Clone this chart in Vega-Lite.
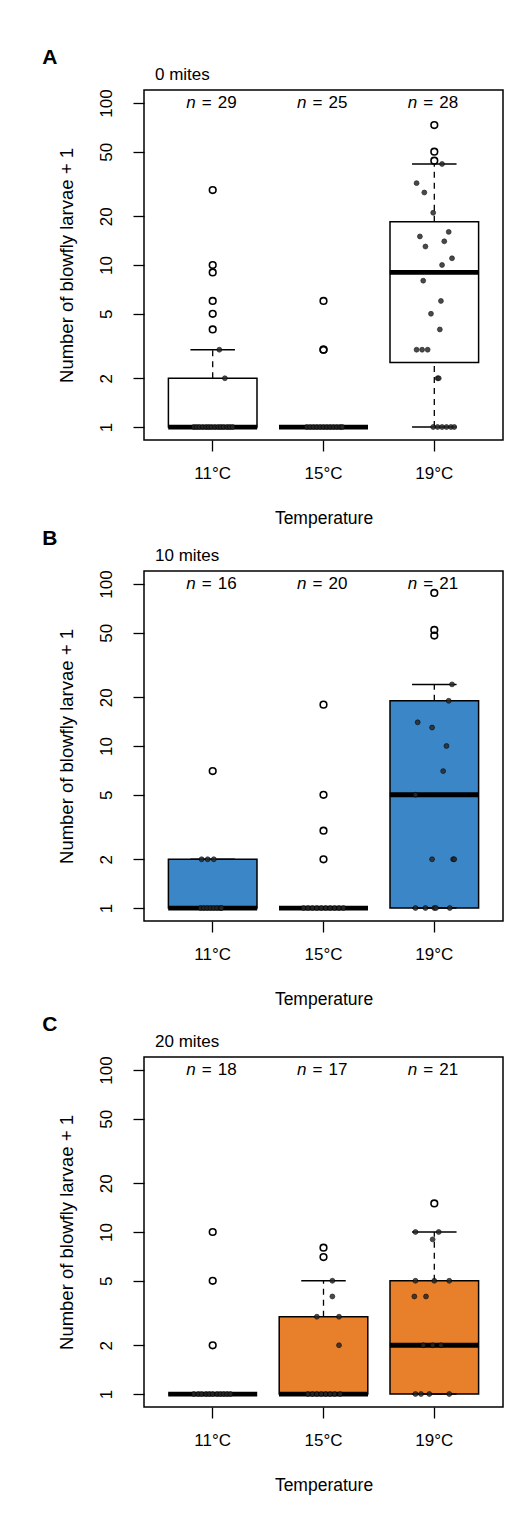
{
"$schema": "https://vega.github.io/schema/vega-lite/v6.json",
"background": "white",
"padding": {"left": 42, "top": 47, "right": 5, "bottom": 5},
"config": {
  "font": "Liberation Sans",
  "view": {"stroke": "black", "strokeWidth": 1.5},
  "axis": {"domain": false, "grid": false, "tickColor": "black", "tickSize": 11, "tickWidth": 1.3, "labelColor": "black", "labelFontSize": 17, "titleColor": "black", "titleFontSize": 17, "titleFontWeight": "normal", "labelFont": "Liberation Sans", "titleFont": "Liberation Sans", "labelOverlap": false, "labelFlush": false},
  "axisX": {"labelPadding": 14, "titlePadding": 28, "labelAngle": 0, "titleFontSize": 17.5},
  "axisY": {"labelAngle": -90, "labelAlign": "center", "labelBaseline": "alphabetic", "labelPadding": 22, "titlePadding": 21, "titleFontSize": 18.5},
  "title": {"font": "Liberation Sans", "color": "black"}
},
"datasets": {
  "stats": [
    {"panel": "A", "temp": "11°C", "lo": 1, "q1": 1, "med": 1, "q3": 2, "hi": 3, "n": 29},
    {"panel": "A", "temp": "15°C", "lo": 1, "q1": 1, "med": 1, "q3": 1, "hi": 1, "n": 25},
    {"panel": "A", "temp": "19°C", "lo": 1, "q1": 2.5, "med": 9, "q3": 18.5, "hi": 42, "n": 28},
    {"panel": "B", "temp": "11°C", "lo": 1, "q1": 1, "med": 1, "q3": 2, "hi": 2, "n": 16},
    {"panel": "B", "temp": "15°C", "lo": 1, "q1": 1, "med": 1, "q3": 1, "hi": 1, "n": 20},
    {"panel": "B", "temp": "19°C", "lo": 1, "q1": 1, "med": 5, "q3": 19, "hi": 24, "n": 21},
    {"panel": "C", "temp": "11°C", "lo": 1, "q1": 1, "med": 1, "q3": 1, "hi": 1, "n": 18},
    {"panel": "C", "temp": "15°C", "lo": 1, "q1": 1, "med": 1, "q3": 3, "hi": 5, "n": 17},
    {"panel": "C", "temp": "19°C", "lo": 1, "q1": 1, "med": 2, "q3": 5, "hi": 10, "n": 21}
  ],
  "pts": [
    {"panel": "A", "temp": "11°C", "value": 29, "jit": 0, "kind": "out"},
    {"panel": "A", "temp": "11°C", "value": 10, "jit": 0, "kind": "out"},
    {"panel": "A", "temp": "11°C", "value": 9, "jit": 0, "kind": "out"},
    {"panel": "A", "temp": "11°C", "value": 6, "jit": 0, "kind": "out"},
    {"panel": "A", "temp": "11°C", "value": 5, "jit": 0, "kind": "out"},
    {"panel": "A", "temp": "11°C", "value": 4, "jit": 0, "kind": "out"},
    {"panel": "A", "temp": "11°C", "value": 3, "jit": 0.06, "kind": "in"},
    {"panel": "A", "temp": "11°C", "value": 2, "jit": 0.11, "kind": "in"},
    {"panel": "A", "temp": "11°C", "value": 1, "jit": -0.17, "kind": "in"},
    {"panel": "A", "temp": "11°C", "value": 1, "jit": -0.145, "kind": "in"},
    {"panel": "A", "temp": "11°C", "value": 1, "jit": -0.12, "kind": "in"},
    {"panel": "A", "temp": "11°C", "value": 1, "jit": -0.09, "kind": "in"},
    {"panel": "A", "temp": "11°C", "value": 1, "jit": -0.06, "kind": "in"},
    {"panel": "A", "temp": "11°C", "value": 1, "jit": -0.035, "kind": "in"},
    {"panel": "A", "temp": "11°C", "value": 1, "jit": -0.01, "kind": "in"},
    {"panel": "A", "temp": "11°C", "value": 1, "jit": 0.02, "kind": "in"},
    {"panel": "A", "temp": "11°C", "value": 1, "jit": 0.05, "kind": "in"},
    {"panel": "A", "temp": "11°C", "value": 1, "jit": 0.075, "kind": "in"},
    {"panel": "A", "temp": "11°C", "value": 1, "jit": 0.1, "kind": "in"},
    {"panel": "A", "temp": "11°C", "value": 1, "jit": 0.13, "kind": "in"},
    {"panel": "A", "temp": "11°C", "value": 1, "jit": 0.155, "kind": "in"},
    {"panel": "A", "temp": "11°C", "value": 1, "jit": 0.18, "kind": "in"},
    {"panel": "A", "temp": "15°C", "value": 6, "jit": 0, "kind": "out"},
    {"panel": "A", "temp": "15°C", "value": 3, "jit": 0, "kind": "out"},
    {"panel": "A", "temp": "15°C", "value": 3, "jit": 0, "kind": "out"},
    {"panel": "A", "temp": "15°C", "value": 1, "jit": -0.15, "kind": "in"},
    {"panel": "A", "temp": "15°C", "value": 1, "jit": -0.12, "kind": "in"},
    {"panel": "A", "temp": "15°C", "value": 1, "jit": -0.09, "kind": "in"},
    {"panel": "A", "temp": "15°C", "value": 1, "jit": -0.06, "kind": "in"},
    {"panel": "A", "temp": "15°C", "value": 1, "jit": -0.03, "kind": "in"},
    {"panel": "A", "temp": "15°C", "value": 1, "jit": 0, "kind": "in"},
    {"panel": "A", "temp": "15°C", "value": 1, "jit": 0.03, "kind": "in"},
    {"panel": "A", "temp": "15°C", "value": 1, "jit": 0.06, "kind": "in"},
    {"panel": "A", "temp": "15°C", "value": 1, "jit": 0.09, "kind": "in"},
    {"panel": "A", "temp": "15°C", "value": 1, "jit": 0.12, "kind": "in"},
    {"panel": "A", "temp": "15°C", "value": 1, "jit": 0.15, "kind": "in"},
    {"panel": "A", "temp": "15°C", "value": 1, "jit": 0.17, "kind": "in"},
    {"panel": "A", "temp": "19°C", "value": 73, "jit": 0, "kind": "out"},
    {"panel": "A", "temp": "19°C", "value": 50, "jit": 0, "kind": "out"},
    {"panel": "A", "temp": "19°C", "value": 44, "jit": 0, "kind": "out"},
    {"panel": "A", "temp": "19°C", "value": 42, "jit": 0.07, "kind": "in"},
    {"panel": "A", "temp": "19°C", "value": 32, "jit": -0.16, "kind": "in"},
    {"panel": "A", "temp": "19°C", "value": 28, "jit": -0.09, "kind": "in"},
    {"panel": "A", "temp": "19°C", "value": 21, "jit": -0.01, "kind": "in"},
    {"panel": "A", "temp": "19°C", "value": 15, "jit": -0.13, "kind": "in"},
    {"panel": "A", "temp": "19°C", "value": 16, "jit": 0.13, "kind": "in"},
    {"panel": "A", "temp": "19°C", "value": 14, "jit": 0.09, "kind": "in"},
    {"panel": "A", "temp": "19°C", "value": 13, "jit": -0.08, "kind": "in"},
    {"panel": "A", "temp": "19°C", "value": 11, "jit": 0.16, "kind": "in"},
    {"panel": "A", "temp": "19°C", "value": 10, "jit": 0.07, "kind": "in"},
    {"panel": "A", "temp": "19°C", "value": 8, "jit": -0.1, "kind": "in"},
    {"panel": "A", "temp": "19°C", "value": 6, "jit": 0.06, "kind": "in"},
    {"panel": "A", "temp": "19°C", "value": 5, "jit": -0.03, "kind": "in"},
    {"panel": "A", "temp": "19°C", "value": 4, "jit": 0.05, "kind": "in"},
    {"panel": "A", "temp": "19°C", "value": 3, "jit": -0.16, "kind": "in"},
    {"panel": "A", "temp": "19°C", "value": 3, "jit": -0.11, "kind": "in"},
    {"panel": "A", "temp": "19°C", "value": 3, "jit": -0.06, "kind": "in"},
    {"panel": "A", "temp": "19°C", "value": 2, "jit": 0.03, "kind": "in"},
    {"panel": "A", "temp": "19°C", "value": 2, "jit": 0.04, "kind": "in"},
    {"panel": "A", "temp": "19°C", "value": 1, "jit": -0.01, "kind": "in"},
    {"panel": "A", "temp": "19°C", "value": 1, "jit": 0.03, "kind": "in"},
    {"panel": "A", "temp": "19°C", "value": 1, "jit": 0.07, "kind": "in"},
    {"panel": "A", "temp": "19°C", "value": 1, "jit": 0.11, "kind": "in"},
    {"panel": "A", "temp": "19°C", "value": 1, "jit": 0.15, "kind": "in"},
    {"panel": "A", "temp": "19°C", "value": 1, "jit": 0.18, "kind": "in"},
    {"panel": "B", "temp": "11°C", "value": 7, "jit": 0, "kind": "out"},
    {"panel": "B", "temp": "11°C", "value": 2, "jit": -0.1, "kind": "in"},
    {"panel": "B", "temp": "11°C", "value": 2, "jit": -0.045, "kind": "in"},
    {"panel": "B", "temp": "11°C", "value": 2, "jit": 0.01, "kind": "in"},
    {"panel": "B", "temp": "11°C", "value": 1, "jit": -0.11, "kind": "in"},
    {"panel": "B", "temp": "11°C", "value": 1, "jit": -0.08, "kind": "in"},
    {"panel": "B", "temp": "11°C", "value": 1, "jit": -0.05, "kind": "in"},
    {"panel": "B", "temp": "11°C", "value": 1, "jit": -0.02, "kind": "in"},
    {"panel": "B", "temp": "11°C", "value": 1, "jit": 0.01, "kind": "in"},
    {"panel": "B", "temp": "11°C", "value": 1, "jit": 0.04, "kind": "in"},
    {"panel": "B", "temp": "11°C", "value": 1, "jit": 0.07, "kind": "in"},
    {"panel": "B", "temp": "11°C", "value": 1, "jit": 0.08, "kind": "in"},
    {"panel": "B", "temp": "15°C", "value": 18, "jit": 0, "kind": "out"},
    {"panel": "B", "temp": "15°C", "value": 5, "jit": 0, "kind": "out"},
    {"panel": "B", "temp": "15°C", "value": 3, "jit": 0, "kind": "out"},
    {"panel": "B", "temp": "15°C", "value": 2, "jit": 0, "kind": "out"},
    {"panel": "B", "temp": "15°C", "value": 1, "jit": -0.18, "kind": "in"},
    {"panel": "B", "temp": "15°C", "value": 1, "jit": -0.14, "kind": "in"},
    {"panel": "B", "temp": "15°C", "value": 1, "jit": -0.1, "kind": "in"},
    {"panel": "B", "temp": "15°C", "value": 1, "jit": -0.06, "kind": "in"},
    {"panel": "B", "temp": "15°C", "value": 1, "jit": -0.02, "kind": "in"},
    {"panel": "B", "temp": "15°C", "value": 1, "jit": 0.02, "kind": "in"},
    {"panel": "B", "temp": "15°C", "value": 1, "jit": 0.06, "kind": "in"},
    {"panel": "B", "temp": "15°C", "value": 1, "jit": 0.1, "kind": "in"},
    {"panel": "B", "temp": "15°C", "value": 1, "jit": 0.14, "kind": "in"},
    {"panel": "B", "temp": "15°C", "value": 1, "jit": 0.18, "kind": "in"},
    {"panel": "B", "temp": "19°C", "value": 88, "jit": 0, "kind": "out"},
    {"panel": "B", "temp": "19°C", "value": 52, "jit": 0, "kind": "out"},
    {"panel": "B", "temp": "19°C", "value": 48, "jit": 0, "kind": "out"},
    {"panel": "B", "temp": "19°C", "value": 24, "jit": 0.16, "kind": "in"},
    {"panel": "B", "temp": "19°C", "value": 19, "jit": 0.13, "kind": "in"},
    {"panel": "B", "temp": "19°C", "value": 14, "jit": -0.15, "kind": "in"},
    {"panel": "B", "temp": "19°C", "value": 13, "jit": -0.02, "kind": "in"},
    {"panel": "B", "temp": "19°C", "value": 10, "jit": 0.11, "kind": "in"},
    {"panel": "B", "temp": "19°C", "value": 7, "jit": 0.08, "kind": "in"},
    {"panel": "B", "temp": "19°C", "value": 5, "jit": -0.17, "kind": "in"},
    {"panel": "B", "temp": "19°C", "value": 2, "jit": -0.02, "kind": "in"},
    {"panel": "B", "temp": "19°C", "value": 2, "jit": 0.17, "kind": "in"},
    {"panel": "B", "temp": "19°C", "value": 2, "jit": 0.18, "kind": "in"},
    {"panel": "B", "temp": "19°C", "value": 1, "jit": -0.17, "kind": "in"},
    {"panel": "B", "temp": "19°C", "value": 1, "jit": -0.08, "kind": "in"},
    {"panel": "B", "temp": "19°C", "value": 1, "jit": 0, "kind": "in"},
    {"panel": "B", "temp": "19°C", "value": 1, "jit": 0.015, "kind": "in"},
    {"panel": "B", "temp": "19°C", "value": 1, "jit": 0.14, "kind": "in"},
    {"panel": "C", "temp": "11°C", "value": 10, "jit": 0, "kind": "out"},
    {"panel": "C", "temp": "11°C", "value": 5, "jit": 0, "kind": "out"},
    {"panel": "C", "temp": "11°C", "value": 2, "jit": 0, "kind": "out"},
    {"panel": "C", "temp": "11°C", "value": 1, "jit": -0.17, "kind": "in"},
    {"panel": "C", "temp": "11°C", "value": 1, "jit": -0.13, "kind": "in"},
    {"panel": "C", "temp": "11°C", "value": 1, "jit": -0.1, "kind": "in"},
    {"panel": "C", "temp": "11°C", "value": 1, "jit": -0.06, "kind": "in"},
    {"panel": "C", "temp": "11°C", "value": 1, "jit": -0.03, "kind": "in"},
    {"panel": "C", "temp": "11°C", "value": 1, "jit": 0, "kind": "in"},
    {"panel": "C", "temp": "11°C", "value": 1, "jit": 0.04, "kind": "in"},
    {"panel": "C", "temp": "11°C", "value": 1, "jit": 0.07, "kind": "in"},
    {"panel": "C", "temp": "11°C", "value": 1, "jit": 0.1, "kind": "in"},
    {"panel": "C", "temp": "11°C", "value": 1, "jit": 0.13, "kind": "in"},
    {"panel": "C", "temp": "11°C", "value": 1, "jit": 0.16, "kind": "in"},
    {"panel": "C", "temp": "15°C", "value": 8, "jit": 0, "kind": "out"},
    {"panel": "C", "temp": "15°C", "value": 7, "jit": 0, "kind": "out"},
    {"panel": "C", "temp": "15°C", "value": 5, "jit": 0.08, "kind": "in"},
    {"panel": "C", "temp": "15°C", "value": 4, "jit": 0.08, "kind": "in"},
    {"panel": "C", "temp": "15°C", "value": 3, "jit": -0.06, "kind": "in"},
    {"panel": "C", "temp": "15°C", "value": 3, "jit": 0.14, "kind": "in"},
    {"panel": "C", "temp": "15°C", "value": 2, "jit": 0.14, "kind": "in"},
    {"panel": "C", "temp": "15°C", "value": 1, "jit": -0.14, "kind": "in"},
    {"panel": "C", "temp": "15°C", "value": 1, "jit": -0.1, "kind": "in"},
    {"panel": "C", "temp": "15°C", "value": 1, "jit": -0.06, "kind": "in"},
    {"panel": "C", "temp": "15°C", "value": 1, "jit": -0.02, "kind": "in"},
    {"panel": "C", "temp": "15°C", "value": 1, "jit": 0.02, "kind": "in"},
    {"panel": "C", "temp": "15°C", "value": 1, "jit": 0.06, "kind": "in"},
    {"panel": "C", "temp": "15°C", "value": 1, "jit": 0.1, "kind": "in"},
    {"panel": "C", "temp": "15°C", "value": 1, "jit": 0.15, "kind": "in"},
    {"panel": "C", "temp": "19°C", "value": 15, "jit": 0, "kind": "out"},
    {"panel": "C", "temp": "19°C", "value": 10, "jit": -0.17, "kind": "in"},
    {"panel": "C", "temp": "19°C", "value": 10, "jit": 0.04, "kind": "in"},
    {"panel": "C", "temp": "19°C", "value": 9, "jit": -0.015, "kind": "in"},
    {"panel": "C", "temp": "19°C", "value": 5, "jit": -0.17, "kind": "in"},
    {"panel": "C", "temp": "19°C", "value": 5, "jit": 0, "kind": "in"},
    {"panel": "C", "temp": "19°C", "value": 5, "jit": 0.135, "kind": "in"},
    {"panel": "C", "temp": "19°C", "value": 4, "jit": -0.18, "kind": "in"},
    {"panel": "C", "temp": "19°C", "value": 4, "jit": -0.075, "kind": "in"},
    {"panel": "C", "temp": "19°C", "value": 2, "jit": -0.1, "kind": "in"},
    {"panel": "C", "temp": "19°C", "value": 2, "jit": -0.015, "kind": "in"},
    {"panel": "C", "temp": "19°C", "value": 2, "jit": 0.06, "kind": "in"},
    {"panel": "C", "temp": "19°C", "value": 1, "jit": -0.17, "kind": "in"},
    {"panel": "C", "temp": "19°C", "value": 1, "jit": -0.12, "kind": "in"},
    {"panel": "C", "temp": "19°C", "value": 1, "jit": -0.045, "kind": "in"},
    {"panel": "C", "temp": "19°C", "value": 1, "jit": 0.135, "kind": "in"}
  ]
},
"spacing": 0,
"vconcat": [
  {
    "title": {"text": "A", "anchor": "start", "frame": "bounds", "dx": -14, "fontSize": 21, "fontWeight": "bold", "offset": -20, "baseline": "alphabetic"},
    "vconcat": [
      {
        "title": {"text": "0 mites", "anchor": "start", "frame": "group", "dx": 11, "fontSize": 17, "fontWeight": "normal", "offset": -8, "baseline": "alphabetic"},
        "width": 359, "height": 350,
        "encoding": {"x": {"field": "temp", "type": "nominal", "sort": null, "scale": {"type": "band", "domain": ["11°C", "15°C", "19°C"], "paddingInner": 0.2, "paddingOuter": 0.22}, "axis": {"title": "Temperature"}}},
        "layer": [
          {"data": {"name": "stats"}, "transform": [{"filter": "datum.panel == 'A'"}], "mark": {"type": "bar", "fill": "white", "stroke": "black", "strokeWidth": 1.5, "width": 88.6},
           "encoding": {"y": {"field": "q1", "type": "quantitative", "title": "Number of blowfly larvae + 1", "scale": {"type": "log", "domain": [0.8318, 120.2], "nice": false}, "axis": {"values": [1, 2, 5, 10, 20, 50, 100], "format": "d"}}, "y2": {"field": "q3"}}},
          {"data": {"name": "stats"}, "transform": [{"filter": "datum.panel == 'A'"}], "mark": {"type": "rule", "color": "black", "strokeWidth": 1.3, "strokeDash": [6, 5]},
           "encoding": {"y": {"field": "lo", "type": "quantitative", "title": "Number of blowfly larvae + 1", "scale": {"type": "log", "domain": [0.8318, 120.2], "nice": false}}, "y2": {"field": "q1"}}},
          {"data": {"name": "stats"}, "transform": [{"filter": "datum.panel == 'A'"}], "mark": {"type": "rule", "color": "black", "strokeWidth": 1.3, "strokeDash": [6, 5]},
           "encoding": {"y": {"field": "q3", "type": "quantitative", "title": "Number of blowfly larvae + 1", "scale": {"type": "log", "domain": [0.8318, 120.2], "nice": false}}, "y2": {"field": "hi"}}},
          {"data": {"name": "stats"}, "transform": [{"filter": "datum.panel == 'A'"}], "mark": {"type": "tick", "color": "black", "size": 44.5, "thickness": 1.5, "opacity": 1},
           "encoding": {"y": {"field": "lo", "type": "quantitative", "title": "Number of blowfly larvae + 1", "scale": {"type": "log", "domain": [0.8318, 120.2], "nice": false}}}},
          {"data": {"name": "stats"}, "transform": [{"filter": "datum.panel == 'A'"}], "mark": {"type": "tick", "color": "black", "size": 44.5, "thickness": 1.5, "opacity": 1},
           "encoding": {"y": {"field": "hi", "type": "quantitative", "title": "Number of blowfly larvae + 1", "scale": {"type": "log", "domain": [0.8318, 120.2], "nice": false}}}},
          {"data": {"name": "stats"}, "transform": [{"filter": "datum.panel == 'A'"}], "mark": {"type": "tick", "color": "black", "size": 89, "thickness": 4.8, "opacity": 1},
           "encoding": {"y": {"field": "med", "type": "quantitative", "title": "Number of blowfly larvae + 1", "scale": {"type": "log", "domain": [0.8318, 120.2], "nice": false}}}},
          {"data": {"name": "pts"}, "transform": [{"filter": "datum.panel == 'A' && datum.kind == 'in'"}], "mark": {"type": "point", "shape": "circle", "filled": true, "fill": "#2a2a2a", "stroke": "#000000", "strokeWidth": 0.7, "size": 24, "opacity": 0.85},
           "encoding": {"y": {"field": "value", "type": "quantitative", "title": "Number of blowfly larvae + 1", "scale": {"type": "log", "domain": [0.8318, 120.2], "nice": false}}, "xOffset": {"field": "jit", "type": "quantitative", "scale": {"domain": [-0.4, 0.4]}}}},
          {"data": {"name": "pts"}, "transform": [{"filter": "datum.panel == 'A' && datum.kind == 'out'"}], "mark": {"type": "point", "shape": "circle", "filled": false, "color": "black", "strokeWidth": 1.6, "size": 44, "opacity": 1},
           "encoding": {"y": {"field": "value", "type": "quantitative", "title": "Number of blowfly larvae + 1", "scale": {"type": "log", "domain": [0.8318, 120.2], "nice": false}}}},
          {"data": {"name": "stats"}, "transform": [{"filter": "datum.panel == 'A'"}], "mark": {"type": "text", "text": "n", "fontStyle": "italic", "align": "right", "baseline": "middle", "dx": -17, "fontSize": 17, "color": "black"},
           "encoding": {"y": {"datum": 100}}},
          {"data": {"name": "stats"}, "transform": [{"filter": "datum.panel == 'A'"}], "mark": {"type": "text", "text": "=", "align": "center", "baseline": "middle", "dx": -6, "fontSize": 17, "color": "black"},
           "encoding": {"y": {"datum": 100}}},
          {"data": {"name": "stats"}, "transform": [{"filter": "datum.panel == 'A'"}], "mark": {"type": "text", "align": "left", "baseline": "middle", "dx": 5, "fontSize": 17, "color": "black"},
           "encoding": {"y": {"datum": 100}, "text": {"field": "n", "type": "quantitative"}}}
        ]
      }
    ]
  },
  {
    "spacing": 5,
    "vconcat": [
      {
        "title": {"text": "B", "anchor": "start", "frame": "bounds", "dx": -14, "fontSize": 21, "fontWeight": "bold", "offset": -20, "baseline": "alphabetic"},
        "vconcat": [
          {
            "title": {"text": "10 mites", "anchor": "start", "frame": "group", "dx": 11, "fontSize": 17, "fontWeight": "normal", "offset": -8, "baseline": "alphabetic"},
            "width": 359, "height": 350,
            "encoding": {"x": {"field": "temp", "type": "nominal", "sort": null, "scale": {"type": "band", "domain": ["11°C", "15°C", "19°C"], "paddingInner": 0.2, "paddingOuter": 0.22}, "axis": {"title": "Temperature"}}},
            "layer": [
              {"data": {"name": "stats"}, "transform": [{"filter": "datum.panel == 'B'"}], "mark": {"type": "bar", "fill": "#3A86C7", "stroke": "black", "strokeWidth": 1.5, "width": 88.6},
               "encoding": {"y": {"field": "q1", "type": "quantitative", "title": "Number of blowfly larvae + 1", "scale": {"type": "log", "domain": [0.8318, 120.2], "nice": false}, "axis": {"values": [1, 2, 5, 10, 20, 50, 100], "format": "d"}}, "y2": {"field": "q3"}}},
              {"data": {"name": "stats"}, "transform": [{"filter": "datum.panel == 'B'"}], "mark": {"type": "rule", "color": "black", "strokeWidth": 1.3, "strokeDash": [6, 5]},
               "encoding": {"y": {"field": "lo", "type": "quantitative", "title": "Number of blowfly larvae + 1", "scale": {"type": "log", "domain": [0.8318, 120.2], "nice": false}}, "y2": {"field": "q1"}}},
              {"data": {"name": "stats"}, "transform": [{"filter": "datum.panel == 'B'"}], "mark": {"type": "rule", "color": "black", "strokeWidth": 1.3, "strokeDash": [6, 5]},
               "encoding": {"y": {"field": "q3", "type": "quantitative", "title": "Number of blowfly larvae + 1", "scale": {"type": "log", "domain": [0.8318, 120.2], "nice": false}}, "y2": {"field": "hi"}}},
              {"data": {"name": "stats"}, "transform": [{"filter": "datum.panel == 'B'"}], "mark": {"type": "tick", "color": "black", "size": 44.5, "thickness": 1.5, "opacity": 1},
               "encoding": {"y": {"field": "lo", "type": "quantitative", "title": "Number of blowfly larvae + 1", "scale": {"type": "log", "domain": [0.8318, 120.2], "nice": false}}}},
              {"data": {"name": "stats"}, "transform": [{"filter": "datum.panel == 'B'"}], "mark": {"type": "tick", "color": "black", "size": 44.5, "thickness": 1.5, "opacity": 1},
               "encoding": {"y": {"field": "hi", "type": "quantitative", "title": "Number of blowfly larvae + 1", "scale": {"type": "log", "domain": [0.8318, 120.2], "nice": false}}}},
              {"data": {"name": "stats"}, "transform": [{"filter": "datum.panel == 'B'"}], "mark": {"type": "tick", "color": "black", "size": 89, "thickness": 4.8, "opacity": 1},
               "encoding": {"y": {"field": "med", "type": "quantitative", "title": "Number of blowfly larvae + 1", "scale": {"type": "log", "domain": [0.8318, 120.2], "nice": false}}}},
              {"data": {"name": "pts"}, "transform": [{"filter": "datum.panel == 'B' && datum.kind == 'in'"}], "mark": {"type": "point", "shape": "circle", "filled": true, "fill": "#2a2a2a", "stroke": "#000000", "strokeWidth": 0.7, "size": 24, "opacity": 0.85},
               "encoding": {"y": {"field": "value", "type": "quantitative", "title": "Number of blowfly larvae + 1", "scale": {"type": "log", "domain": [0.8318, 120.2], "nice": false}}, "xOffset": {"field": "jit", "type": "quantitative", "scale": {"domain": [-0.4, 0.4]}}}},
              {"data": {"name": "pts"}, "transform": [{"filter": "datum.panel == 'B' && datum.kind == 'out'"}], "mark": {"type": "point", "shape": "circle", "filled": false, "color": "black", "strokeWidth": 1.6, "size": 44, "opacity": 1},
               "encoding": {"y": {"field": "value", "type": "quantitative", "title": "Number of blowfly larvae + 1", "scale": {"type": "log", "domain": [0.8318, 120.2], "nice": false}}}},
              {"data": {"name": "stats"}, "transform": [{"filter": "datum.panel == 'B'"}], "mark": {"type": "text", "text": "n", "fontStyle": "italic", "align": "right", "baseline": "middle", "dx": -17, "fontSize": 17, "color": "black"},
               "encoding": {"y": {"datum": 100}}},
              {"data": {"name": "stats"}, "transform": [{"filter": "datum.panel == 'B'"}], "mark": {"type": "text", "text": "=", "align": "center", "baseline": "middle", "dx": -6, "fontSize": 17, "color": "black"},
               "encoding": {"y": {"datum": 100}}},
              {"data": {"name": "stats"}, "transform": [{"filter": "datum.panel == 'B'"}], "mark": {"type": "text", "align": "left", "baseline": "middle", "dx": 5, "fontSize": 17, "color": "black"},
               "encoding": {"y": {"datum": 100}, "text": {"field": "n", "type": "quantitative"}}}
            ]
          }
        ]
      },
      {
        "title": {"text": "C", "anchor": "start", "frame": "bounds", "dx": -14, "fontSize": 21, "fontWeight": "bold", "offset": -20, "baseline": "alphabetic"},
        "vconcat": [
          {
            "title": {"text": "20 mites", "anchor": "start", "frame": "group", "dx": 11, "fontSize": 17, "fontWeight": "normal", "offset": -8, "baseline": "alphabetic"},
            "width": 359, "height": 350,
            "encoding": {"x": {"field": "temp", "type": "nominal", "sort": null, "scale": {"type": "band", "domain": ["11°C", "15°C", "19°C"], "paddingInner": 0.2, "paddingOuter": 0.22}, "axis": {"title": "Temperature"}}},
            "layer": [
              {"data": {"name": "stats"}, "transform": [{"filter": "datum.panel == 'C'"}], "mark": {"type": "bar", "fill": "#E8802B", "stroke": "black", "strokeWidth": 1.5, "width": 88.6},
               "encoding": {"y": {"field": "q1", "type": "quantitative", "title": "Number of blowfly larvae + 1", "scale": {"type": "log", "domain": [0.8318, 120.2], "nice": false}, "axis": {"values": [1, 2, 5, 10, 20, 50, 100], "format": "d"}}, "y2": {"field": "q3"}}},
              {"data": {"name": "stats"}, "transform": [{"filter": "datum.panel == 'C'"}], "mark": {"type": "rule", "color": "black", "strokeWidth": 1.3, "strokeDash": [6, 5]},
               "encoding": {"y": {"field": "lo", "type": "quantitative", "title": "Number of blowfly larvae + 1", "scale": {"type": "log", "domain": [0.8318, 120.2], "nice": false}}, "y2": {"field": "q1"}}},
              {"data": {"name": "stats"}, "transform": [{"filter": "datum.panel == 'C'"}], "mark": {"type": "rule", "color": "black", "strokeWidth": 1.3, "strokeDash": [6, 5]},
               "encoding": {"y": {"field": "q3", "type": "quantitative", "title": "Number of blowfly larvae + 1", "scale": {"type": "log", "domain": [0.8318, 120.2], "nice": false}}, "y2": {"field": "hi"}}},
              {"data": {"name": "stats"}, "transform": [{"filter": "datum.panel == 'C'"}], "mark": {"type": "tick", "color": "black", "size": 44.5, "thickness": 1.5, "opacity": 1},
               "encoding": {"y": {"field": "lo", "type": "quantitative", "title": "Number of blowfly larvae + 1", "scale": {"type": "log", "domain": [0.8318, 120.2], "nice": false}}}},
              {"data": {"name": "stats"}, "transform": [{"filter": "datum.panel == 'C'"}], "mark": {"type": "tick", "color": "black", "size": 44.5, "thickness": 1.5, "opacity": 1},
               "encoding": {"y": {"field": "hi", "type": "quantitative", "title": "Number of blowfly larvae + 1", "scale": {"type": "log", "domain": [0.8318, 120.2], "nice": false}}}},
              {"data": {"name": "stats"}, "transform": [{"filter": "datum.panel == 'C'"}], "mark": {"type": "tick", "color": "black", "size": 89, "thickness": 4.8, "opacity": 1},
               "encoding": {"y": {"field": "med", "type": "quantitative", "title": "Number of blowfly larvae + 1", "scale": {"type": "log", "domain": [0.8318, 120.2], "nice": false}}}},
              {"data": {"name": "pts"}, "transform": [{"filter": "datum.panel == 'C' && datum.kind == 'in'"}], "mark": {"type": "point", "shape": "circle", "filled": true, "fill": "#2a2a2a", "stroke": "#000000", "strokeWidth": 0.7, "size": 24, "opacity": 0.85},
               "encoding": {"y": {"field": "value", "type": "quantitative", "title": "Number of blowfly larvae + 1", "scale": {"type": "log", "domain": [0.8318, 120.2], "nice": false}}, "xOffset": {"field": "jit", "type": "quantitative", "scale": {"domain": [-0.4, 0.4]}}}},
              {"data": {"name": "pts"}, "transform": [{"filter": "datum.panel == 'C' && datum.kind == 'out'"}], "mark": {"type": "point", "shape": "circle", "filled": false, "color": "black", "strokeWidth": 1.6, "size": 44, "opacity": 1},
               "encoding": {"y": {"field": "value", "type": "quantitative", "title": "Number of blowfly larvae + 1", "scale": {"type": "log", "domain": [0.8318, 120.2], "nice": false}}}},
              {"data": {"name": "stats"}, "transform": [{"filter": "datum.panel == 'C'"}], "mark": {"type": "text", "text": "n", "fontStyle": "italic", "align": "right", "baseline": "middle", "dx": -17, "fontSize": 17, "color": "black"},
               "encoding": {"y": {"datum": 100}}},
              {"data": {"name": "stats"}, "transform": [{"filter": "datum.panel == 'C'"}], "mark": {"type": "text", "text": "=", "align": "center", "baseline": "middle", "dx": -6, "fontSize": 17, "color": "black"},
               "encoding": {"y": {"datum": 100}}},
              {"data": {"name": "stats"}, "transform": [{"filter": "datum.panel == 'C'"}], "mark": {"type": "text", "align": "left", "baseline": "middle", "dx": 5, "fontSize": 17, "color": "black"},
               "encoding": {"y": {"datum": 100}, "text": {"field": "n", "type": "quantitative"}}}
            ]
          }
        ]
      }
    ]
  }
]
}
